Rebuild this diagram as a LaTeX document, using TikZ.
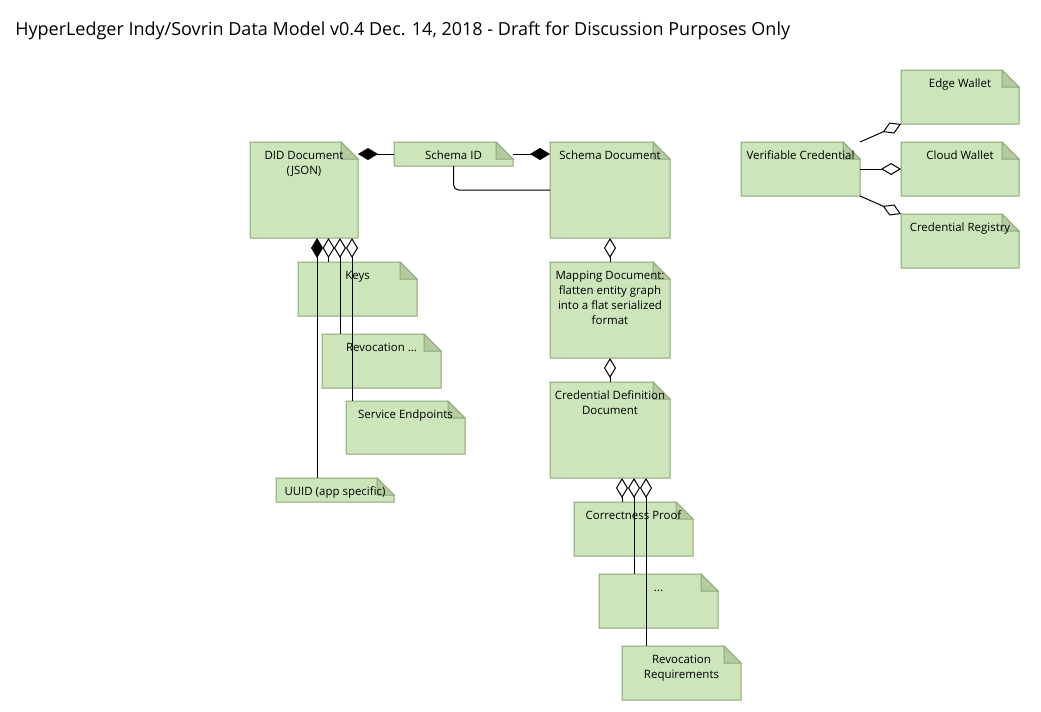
\documentclass[tikz,border=0pt]{standalone}
\usepackage{fontspec}
\setmainfont{Open Sans}
\usetikzlibrary{arrows.meta,calc}
\definecolor{notefill}{RGB}{204,229,186}
\definecolor{noteline}{RGB}{140,168,118}
\definecolor{notefold}{RGB}{180,203,162}
\tikzset{
  boxn/.style={draw=none,inner sep=0pt,outer sep=0pt,rectangle},
  notetext/.style={anchor=base,inner sep=0pt,font=\fontsize{8.6pt}{11.25pt}\selectfont},
  conn/.style={line width=0.75pt,black},
  odia/.tip={Diamond[length=15pt,width=9pt,fill=white,line width=0.75pt]},
  fdia/.tip={Diamond[length=15pt,width=9pt,fill=black,line width=0.75pt]},
}
\newcommand\mknote[6]{%
  \filldraw[fill=notefill,draw=noteline,line width=0.75pt] (#2,#3) -- (#4-17,#3) -- (#4,#3+17) -- (#4,#5) -- (#2,#5) -- cycle;
  \filldraw[fill=notefold,draw=noteline,line width=0.75pt,line join=miter] (#4-17,#3) -- (#4-17,#3+17) -- (#4,#3+17) -- cycle;
  \node[boxn,minimum width={(#4-#2)*0.75pt},minimum height={(#5-#3)*0.75pt}] (#1) at ({(#2+#4)/2},{(#3+#5)/2}) {};
  \node[notetext] (#1-t) at ({(#2+#4)/2},#3+17.5) {\begin{tabular}[t]{@{}c@{}}#6\end{tabular}};
}
\begin{document}
\begin{tikzpicture}[x=0.75pt,y=-0.75pt]
\fill[white] (0,0) rectangle (1041,711);
\useasboundingbox (0,0) rectangle (1041,711);
\node[anchor=base west,inner sep=0pt,font=\fontsize{13.5pt}{16pt}\selectfont] (title) at (15,35)
  {HyperLedger Indy/Sovrin Data Model v0.4 Dec. 14, 2018 - Draft for Discussion Purposes Only};

\mknote{did}{250}{142}{358}{238}{DID Document\\(JSON)}
\mknote{sid}{394}{142}{513}{166}{Schema ID}
\mknote{sdoc}{550}{142}{670}{238}{Schema Document}
\mknote{map}{550}{262}{670}{358}{Mapping Document:\\flatten entity graph\\into a flat serialized\\format}
\mknote{cdef}{550}{382}{670}{478}{Credential Definition\\Document}
\mknote{cproof}{574}{502}{693}{556}{Correctness Proof}
\mknote{dots}{599}{574}{718}{628}{...}
\mknote{revreq}{622}{646}{741}{700}{Revocation\\Requirements}
\mknote{keys}{298}{262}{417}{316}{Keys}
\mknote{revoc}{322}{334}{441}{388}{Revocation ...}
\mknote{svc}{346}{401}{465}{454}{Service Endpoints}
\mknote{uuid}{276}{478}{394}{502}{UUID (app specific)}
\mknote{edge}{901}{70}{1019}{124}{Edge Wallet}
\mknote{vc}{741}{142}{860}{196}{Verifiable Credential}
\mknote{cloud}{901}{142}{1019}{196}{Cloud Wallet}
\mknote{creg}{901}{214}{1019}{268}{Credential Registry}

% top row
\draw[conn,{fdia}-] (sid.west -| did.east) -- (sid.west);
\draw[conn,-{fdia}] (sid.east) -- (sid.east -| sdoc.west);
\draw[conn,rounded corners=4pt] (sid.south) |- ([yshift=-36pt]sdoc.north west);
% schema chain
\draw[conn,{odia}-] (sdoc.south) -- (map.north);
\draw[conn,{odia}-] (map.south) -- (cdef.north);
% credential definition parts
\draw[conn,{odia}-] ([xshift=9pt]cdef.south) -- ([xshift=9pt]cdef.south |- cproof.north);
\draw[conn,{odia}-] ([xshift=18pt]cdef.south) -- ([xshift=18pt]cdef.south |- dots.north);
\draw[conn,{odia}-] ([xshift=27pt]cdef.south) -- ([xshift=27pt]cdef.south |- revreq.north);
% DID parts
\draw[conn,{fdia}-] ([xshift=9.75pt]did.south) -- ([xshift=9.75pt]did.south |- uuid.north);
\draw[conn,{odia}-] ([xshift=18.4pt]did.south) -- ([xshift=18.4pt]did.south |- keys.north);
\draw[conn,{odia}-] ([xshift=27pt]did.south) -- ([xshift=27pt]did.south |- revoc.north);
\draw[conn,{odia}-] ([xshift=36pt]did.south) -- ([xshift=36pt]did.south |- svc.north);
% wallets
\draw[conn,-{odia}] (vc.north east) -- (edge.south west);
\draw[conn,-{odia}] (vc.east) -- (cloud.west);
\draw[conn,-{odia}] (vc.south east) -- (creg.north west);
\end{tikzpicture}
\end{document}
